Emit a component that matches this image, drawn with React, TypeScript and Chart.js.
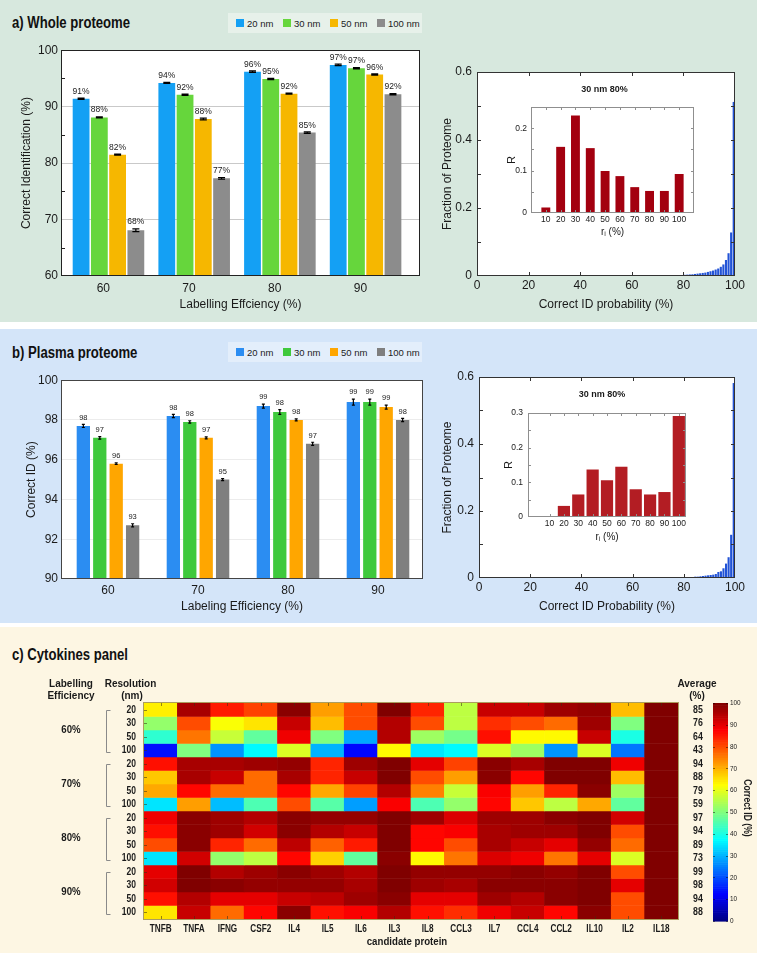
import React, { useEffect, useRef } from 'react';
import { Chart, registerables } from 'chart.js';

Chart.register(...registerables);

const SANS = '"Liberation Sans", Arial, Helvetica, sans-serif';
const INK = '#1a1a1a';

// ---------------- panel a: whole proteome ----------------
const resolutions = ['20 nm', '30 nm', '50 nm', '100 nm'];
const effLabels = ['60', '70', '80', '90'];
const whole20 = [91.4, 94.2, 96.2, 97.4];
const whole30 = [88.1, 92.1, 94.9, 96.8];
const whole50 = [81.5, 87.8, 92.3, 95.7];
const whole100 = [68.1, 77.3, 85.4, 92.2];
const wholeErr20 = [0.1, 0.1, 0.12, 0.12];
const wholeErr30 = [0.1, 0.12, 0.12, 0.1];
const wholeErr50 = [0.08, 0.15, 0.1, 0.1];
const wholeErr100 = [0.25, 0.15, 0.12, 0.1];
const wholeLab20 = ['91%', '94%', '96%', '97%'];
const wholeLab30 = ['88%', '92%', '95%', '97%'];
const wholeLab50 = ['82%', '88%', '92%', '96%'];
const wholeLab100 = ['68%', '77%', '85%', '92%'];
const wholeYTicks = [60, 70, 80, 90, 100];
const wholeYMinor = [65, 75, 85, 95];

// histogram of correct-ID probability (1 % bins, starting at bin 70)
const histStartA = 70;
const histA = [0.001, 0.001, 0.001, 0.0015, 0.0015, 0.002, 0.002, 0.0025, 0.003, 0.003,
  0.0035, 0.004, 0.0045, 0.005, 0.006, 0.007, 0.008, 0.009, 0.01, 0.012,
  0.014, 0.016, 0.019, 0.022, 0.027, 0.034, 0.047, 0.067, 0.128, 0.512];
const histStartB = 70;
const histB = [0, 0, 0, 0, 0, 0, 0, 0, 0.0005, 0.001,
  0.002, 0.002, 0.003, 0.003, 0.004, 0.004, 0.005, 0.006, 0.007, 0.008,
  0.009, 0.01, 0.012, 0.018, 0.02, 0.029, 0.043, 0.062, 0.129, 0.582];
const histXTicks = [0, 20, 40, 60, 80, 100];
const histYTicks = [0, 0.2, 0.4, 0.6];
const histYMinor = [0.1, 0.2, 0.3, 0.4, 0.5];

// insets (30 nm, 80 %)
const rCats = ['10', '20', '30', '40', '50', '60', '70', '80', '90', '100'];
const insetA = [0.013, 0.156, 0.23, 0.153, 0.099, 0.087, 0.061, 0.052, 0.052, 0.092];
const insetB = [0, 0.032, 0.065, 0.137, 0.106, 0.145, 0.08, 0.065, 0.072, 0.291];
const insetATicks = [0, 0.1, 0.2];
const insetBTicks = [0, 0.1, 0.2, 0.3];
const insetAMinor = [0.05, 0.1, 0.15, 0.2];
const insetBMinor = [0.05, 0.1, 0.15, 0.2, 0.25];

// ---------------- panel b: plasma proteome ----------------
const plasma20 = [97.7, 98.2, 98.7, 98.9];
const plasma30 = [97.1, 97.9, 98.4, 98.9];
const plasma50 = [95.8, 97.1, 98.0, 98.65];
const plasma100 = [92.7, 95.0, 96.8, 98.0];
const plasmaErr20 = [0.08, 0.08, 0.1, 0.15];
const plasmaErr30 = [0.06, 0.06, 0.12, 0.15];
const plasmaErr50 = [0.04, 0.05, 0.05, 0.1];
const plasmaErr100 = [0.08, 0.05, 0.08, 0.08];
const plasmaLab20 = ['98', '98', '99', '99'];
const plasmaLab30 = ['97', '98', '98', '99'];
const plasmaLab50 = ['96', '97', '98', '99'];
const plasmaLab100 = ['93', '95', '97', '98'];
const plasmaYTicks = [90, 92, 94, 96, 98, 100];

// ---------------- panel c: cytokines heatmap ----------------
const proteins = ['TNFB', 'TNFA', 'IFNG', 'CSF2', 'IL4', 'IL5', 'IL6', 'IL3', 'IL8', 'CCL3', 'IL7', 'CCL4', 'CCL2', 'IL10', 'IL2', 'IL18'];
const effGroups = ['60%', '70%', '80%', '90%'];
const resRows = ['20', '30', '50', '100'];
const e60r20 = [64, 96, 85, 81, 99, 72, 80, 100, 84, 56, 93, 93, 97, 98, 69, 100];
const e60r30 = [52, 80, 62, 65, 93, 69, 80, 95, 80, 56, 83, 80, 77, 97, 50, 100];
const e60r50 = [42, 76, 57, 47, 89, 50, 29, 95, 53, 49, 86, 63, 63, 93, 40, 100];
const e60r100 = [14, 50, 27, 37, 59, 30, 13, 63, 35, 37, 59, 53, 27, 59, 24, 100];
const e70r20 = [86, 96, 96, 97, 98, 84, 97, 100, 90, 81, 99, 96, 100, 100, 89, 100];
const e70r30 = [68, 96, 93, 77, 96, 84, 93, 100, 80, 72, 99, 87, 100, 100, 69, 100];
const e70r50 = [71, 87, 77, 77, 87, 71, 81, 95, 75, 57, 88, 72, 84, 99, 53, 100];
const e70r100 = [35, 72, 31, 45, 80, 46, 28, 88, 45, 52, 87, 68, 56, 71, 47, 100];
const e80r20 = [89, 99, 97, 95, 99, 98, 98, 100, 97, 91, 97, 97, 99, 100, 92, 100];
const e80r30 = [86, 99, 97, 92, 99, 95, 93, 100, 87, 88, 96, 97, 97, 100, 80, 100];
const e80r50 = [80, 99, 84, 77, 94, 78, 85, 100, 87, 80, 96, 93, 90, 98, 77, 100];
const e80r100 = [35, 92, 52, 56, 87, 67, 47, 99, 63, 76, 91, 89, 76, 90, 59, 100];
const e90r20 = [90, 100, 95, 97, 99, 97, 95, 100, 98, 98, 98, 99, 98, 100, 80, 100];
const e90r30 = [92, 100, 99, 98, 98, 98, 96, 100, 97, 96, 99, 99, 99, 100, 90, 100];
const e90r50 = [86, 95, 90, 90, 93, 94, 97, 99, 90, 90, 97, 95, 99, 100, 80, 100];
const e90r100 = [65, 93, 77, 87, 99, 86, 88, 95, 86, 83, 89, 93, 87, 99, 80, 100];
const heatRows = [e60r20, e60r30, e60r50, e60r100, e70r20, e70r30, e70r50, e70r100,
  e80r20, e80r30, e80r50, e80r100, e90r20, e90r30, e90r50, e90r100];
const averages = [85, 76, 64, 43, 94, 88, 79, 59, 97, 94, 89, 73, 99, 98, 94, 88];
const colorbarTicks = [0, 10, 20, 30, 40, 50, 60, 70, 80, 90, 100];

const colorsA = ['#14a0f4', '#66d63c', '#f6b700', '#8c8c8c'];
const colorsB = ['#2b8df2', '#3fc93c', '#ffa600', '#7f7f7f'];

// ---------------- helpers ----------------
function jet(v: number) {
  const t = Math.max(0, Math.min(1, v / 100));
  const c = (x: number) => Math.round(255 * Math.max(0, Math.min(1, 1.5 - Math.abs(x))));
  return `rgb(${c(4 * t - 3)},${c(4 * t - 2)},${c(4 * t - 1)})`;
}

// condensed-looking text: horizontally squeezed Liberation Sans
function narrowText(ctx: any, text: string, x: number, y: number, size: number, squeeze: number, align: string, bold = true, rotate = 0) {
  ctx.save();
  ctx.translate(x, y);
  if (rotate) ctx.rotate(rotate);
  ctx.scale(squeeze, 1);
  ctx.font = `${bold ? 'bold ' : ''}${size}px ${SANS}`;
  ctx.fillStyle = INK;
  ctx.textAlign = align;
  ctx.textBaseline = 'middle';
  ctx.fillText(text, 0, 0);
  ctx.restore();
}

const plotBg = {
  id: 'plotBg',
  beforeDraw(c: any) {
    const { ctx, chartArea: a } = c;
    ctx.save();
    ctx.fillStyle = '#ffffff';
    ctx.fillRect(a.left, a.top, a.width, a.height);
    ctx.restore();
  },
};

type TickSpec = { axis: string; values: number[]; sides: string[]; len: number };
function frameTicks(color: string, specs: TickSpec[], frame = true) {
  return {
    id: 'frameTicks',
    afterDatasetsDraw(c: any) {
      const { ctx, chartArea: a } = c;
      ctx.save();
      ctx.strokeStyle = color;
      ctx.lineWidth = 1;
      for (const s of specs) {
        const sc = c.scales[s.axis];
        for (const v of s.values) {
          const p = Math.round(sc.getPixelForValue(v)) + 0.5;
          for (const side of s.sides) {
            ctx.beginPath();
            if (side === 'bottom') { ctx.moveTo(p, a.bottom); ctx.lineTo(p, a.bottom - s.len); }
            if (side === 'top') { ctx.moveTo(p, a.top); ctx.lineTo(p, a.top + s.len); }
            if (side === 'left') { ctx.moveTo(a.left, p); ctx.lineTo(a.left + s.len, p); }
            if (side === 'right') { ctx.moveTo(a.right, p); ctx.lineTo(a.right - s.len, p); }
            ctx.stroke();
          }
        }
      }
      if (frame) {
        ctx.strokeRect(Math.round(a.left) + 0.5, Math.round(a.top) + 0.5, Math.round(a.width) - 1, Math.round(a.height) - 1);
      }
      ctx.restore();
    },
  };
}

function barNotes(labels: string[][], errs: number[][], font: string, cap: number, gap: number) {
  return {
    id: 'barNotes',
    afterDatasetsDraw(c: any) {
      const { ctx } = c;
      const ys = c.scales.y;
      ctx.save();
      c.data.datasets.forEach((ds: any, di: number) => {
        const meta = c.getDatasetMeta(di);
        meta.data.forEach((el: any, i: number) => {
          const v = ds.data[i].y;
          const e = errs[di][i];
          const top = ys.getPixelForValue(v + e);
          const bot = ys.getPixelForValue(v - e);
          ctx.strokeStyle = '#000';
          ctx.lineWidth = 1.2;
          ctx.beginPath();
          ctx.moveTo(el.x, top); ctx.lineTo(el.x, bot);
          ctx.moveTo(el.x - cap, top); ctx.lineTo(el.x + cap, top);
          ctx.moveTo(el.x - cap, bot); ctx.lineTo(el.x + cap, bot);
          ctx.stroke();
          ctx.fillStyle = '#222';
          ctx.font = font;
          ctx.textAlign = 'center';
          ctx.textBaseline = 'bottom';
          ctx.fillText(labels[di][i], el.x, top - gap);
        });
      });
      ctx.restore();
    },
  };
}

function insetTitle(text: string, dx: number, dy: number) {
  return {
    id: 'insetTitle',
    afterDraw(c: any) {
      const { ctx, chartArea: a } = c;
      ctx.save();
      ctx.font = `bold 9px ${SANS}`;
      ctx.fillStyle = INK;
      ctx.textAlign = 'center';
      ctx.textBaseline = 'middle';
      ctx.fillText(text, (a.left + a.right) / 2 + dx, a.top + dy);
      ctx.restore();
    },
  };
}

const baseOpts = { responsive: false, animation: false, events: [] as string[] };
const noLegend = { legend: { display: false }, tooltip: { enabled: false } };

function groupedBars(p: any) {
  return {
    type: 'bar',
    data: {
      datasets: p.series.map((vals: number[], s: number) => ({
        label: resolutions[s],
        data: vals.map((v, i) => ({ x: i, y: v })),
        backgroundColor: p.colors[s],
        borderWidth: 0,
        categoryPercentage: p.catPct,
        barPercentage: p.barPct,
      })),
    },
    options: {
      ...baseOpts,
      layout: { padding: { top: p.padTop, right: p.padRight, left: 0, bottom: 0 } },
      plugins: noLegend,
      scales: {
        x: {
          type: 'linear', min: p.xMin, max: p.xMax, offset: false,
          afterBuildTicks: (s: any) => { s.ticks = effLabels.map((_l, i) => ({ value: i + p.xTickShift })); },
          ticks: { autoSkip: false, maxRotation: 0, padding: p.xTickPad, color: INK, font: { family: SANS, size: 12 }, callback: (_v: any, i: number) => effLabels[i] },
          grid: { display: false, drawTicks: false },
          border: { display: false },
          title: { display: true, text: p.xTitle, color: INK, font: { family: SANS, size: 12 }, padding: { top: 0, bottom: p.xTitlePad } },
          afterFit: (s: any) => { s.height = p.xHeight; },
        },
        y: {
          type: 'linear', min: p.yMin, max: p.yMax,
          afterBuildTicks: (s: any) => { s.ticks = p.yTicks.map((v: number) => ({ value: v })); },
          ticks: { padding: p.yTickPad, color: INK, font: { family: SANS, size: 12 }, callback: (v: number) => String(v) },
          grid: {
            drawTicks: false,
            color: (ctx: any) => (ctx.tick && (ctx.tick.value === p.yMin || ctx.tick.value === p.yMax)) ? 'rgba(0,0,0,0)' : p.gridColor,
          },
          border: { display: false },
          title: { display: true, text: p.yTitle, color: INK, font: { family: SANS, size: 12 }, padding: { top: p.yTitlePad, bottom: 0 } },
          afterFit: (s: any) => { s.width = p.yWidth; },
        },
      },
    },
    plugins: [plotBg, barNotes(p.labels, p.errs, p.labelFont, p.cap, p.gap), frameTicks(p.frameColor, p.minor ? [{ axis: 'y', values: p.minor, sides: ['left'], len: 4 }] : [])],
  };
}

function histogram(p: any) {
  return {
    type: 'bar',
    data: {
      datasets: [{
        data: p.values.map((v: number, i: number) => ({ x: p.start + i + 0.5, y: v })),
        backgroundColor: '#2253d6',
        borderWidth: 0,
        barPercentage: 0.82,
        categoryPercentage: 1,
      }],
    },
    options: {
      ...baseOpts,
      layout: { padding: { top: p.padTop, right: p.padRight, left: 0, bottom: 0 } },
      plugins: noLegend,
      scales: {
        x: {
          type: 'linear', min: 0, max: 100, offset: false,
          afterBuildTicks: (s: any) => { s.ticks = histXTicks.map((v) => ({ value: v })); },
          ticks: { autoSkip: false, maxRotation: 0, padding: p.xTickPad, color: INK, font: { family: SANS, size: 12 } },
          grid: { display: false, drawTicks: false },
          border: { display: false },
          title: { display: true, text: p.xTitle, color: INK, font: { family: SANS, size: 12 }, padding: { top: 0, bottom: p.xTitlePad } },
          afterFit: (s: any) => { s.height = p.xHeight; },
        },
        y: {
          type: 'linear', min: 0, max: 0.6,
          afterBuildTicks: (s: any) => { s.ticks = histYTicks.map((v) => ({ value: v })); },
          ticks: { padding: 5, color: INK, font: { family: SANS, size: 12 }, callback: (v: number) => (v === 0 ? '0' : v.toFixed(1)) },
          grid: { display: false, drawTicks: false },
          border: { display: false },
          title: { display: true, text: 'Fraction of Proteome', color: INK, font: { family: SANS, size: 12 }, padding: { top: p.yTitlePad, bottom: 0 } },
          afterFit: (s: any) => { s.width = p.yWidth; },
        },
      },
    },
    plugins: [plotBg, frameTicks('#333', [
      { axis: 'x', values: [20, 40, 60, 80], sides: ['top', 'bottom'], len: 4 },
      { axis: 'y', values: histYMinor, sides: ['left', 'right'], len: 4 },
    ])],
  };
}

function inset(p: any) {
  return {
    type: 'bar',
    data: {
      datasets: [{
        data: p.values.map((v: number, i: number) => ({ x: i + 1, y: v })),
        backgroundColor: p.color,
        borderWidth: 0,
        barPercentage: p.barPct,
        categoryPercentage: 1,
      }],
    },
    options: {
      ...baseOpts,
      layout: { padding: { top: p.padTop, right: p.padRight, left: 0, bottom: 0 } },
      plugins: noLegend,
      scales: {
        x: {
          type: 'linear', min: p.xMin, max: p.xMax, offset: false,
          afterBuildTicks: (s: any) => { s.ticks = rCats.map((_c, i) => ({ value: i + 1 })); },
          ticks: { autoSkip: false, maxRotation: 0, padding: 2, color: INK, font: { family: SANS, size: 8.5 }, callback: (_v: any, i: number) => rCats[i] },
          grid: { display: false, drawTicks: false },
          border: { display: false },
          title: { display: true, text: 'rᵢ (%)', color: INK, font: { family: SANS, size: 10 }, padding: { top: 0, bottom: p.xTitlePad } },
          afterFit: (s: any) => { s.height = p.xHeight; },
        },
        y: {
          type: 'linear', min: 0, max: p.yMax,
          afterBuildTicks: (s: any) => { s.ticks = p.yTicks.map((v: number) => ({ value: v })); },
          ticks: { padding: p.yTickPad, color: INK, font: { family: SANS, size: 8.5 }, callback: (v: number) => (v === 0 ? '0' : v.toFixed(1)) },
          grid: { display: false, drawTicks: false },
          border: { display: false },
          title: { display: true, text: 'R', color: INK, font: { family: SANS, size: 11 }, padding: { top: p.yTitlePad, bottom: 0 } },
          afterFit: (s: any) => { s.width = p.yWidth; },
        },
      },
    },
    plugins: [plotBg, frameTicks('#8f8f8f', [
      { axis: 'x', values: rCats.map((_c, i) => i + 1), sides: ['top', 'bottom'], len: 3 },
      { axis: 'y', values: p.minor, sides: ['left', 'right'], len: 3 },
    ]), insetTitle('30 nm 80%', p.titleDx, p.titleDy)],
  };
}

const heatOverlay = {
  id: 'heatOverlay',
  afterDraw(c: any) {
    const { ctx, chartArea: a } = c;
    const ys = c.scales.y;
    const xs = c.scales.x;
    ctx.save();
    // inner tick marks
    ctx.strokeStyle = 'rgba(60,50,20,0.55)';
    ctx.lineWidth = 1;
    proteins.forEach((_p, i) => {
      const x = Math.round(xs.getPixelForValue(i)) + 0.5;
      ctx.beginPath();
      ctx.moveTo(x, a.top); ctx.lineTo(x, a.top + 3);
      ctx.moveTo(x, a.bottom); ctx.lineTo(x, a.bottom - 3);
      ctx.stroke();
    });
    heatRows.forEach((_r, i) => {
      const y = Math.round(ys.getPixelForValue(i + 0.5)) + 0.5;
      ctx.beginPath();
      ctx.moveTo(a.left, y); ctx.lineTo(a.left + 3, y);
      ctx.stroke();
    });
    ctx.strokeStyle = 'rgba(150,135,60,0.8)';
    ctx.strokeRect(Math.round(a.left) - 0.5, Math.round(a.top) - 0.5, Math.round(a.width) + 1, Math.round(a.height) + 1);

    // axis labels at the library's scale positions
    proteins.forEach((p, i) => {
      narrowText(ctx, p, xs.getPixelForValue(i), a.bottom + 10, 10, 0.82, 'center');
    });
    narrowText(ctx, 'candidate protein', (a.left + a.right) / 2 - 4, a.bottom + 23, 11.5, 0.84, 'center');
    heatRows.forEach((_r, i) => {
      const y = ys.getPixelForValue(i + 0.5);
      narrowText(ctx, resRows[i % 4], a.left - 8, y, 11.5, 0.74, 'right');
      narrowText(ctx, String(averages[i]), a.right + 20, y, 11, 0.8, 'center');
    });

    // headers
    ctx.fillStyle = INK;
    ctx.font = `bold 10px ${SANS}`;
    ctx.textAlign = 'center';
    ctx.textBaseline = 'middle';
    ctx.fillText('Labelling', a.left - 73, a.top - 19);
    ctx.fillText('Efficiency', a.left - 73, a.top - 7);
    ctx.fillText('Resolution', a.left - 13.5, a.top - 19);
    ctx.fillText('(nm)', a.left - 12, a.top - 7);
    ctx.fillText('Average', a.right + 19, a.top - 19);
    ctx.fillText('(%)', a.right + 19, a.top - 7);
    // group labels and brackets
    effGroups.forEach((g, i) => {
      const y0 = ys.getPixelForValue(i * 4);
      const y1 = ys.getPixelForValue(i * 4 + 4);
      narrowText(ctx, g, a.left - 73, (y0 + y1) / 2, 10.5, 0.92, 'center');
      ctx.strokeStyle = '#8a8a8a';
      const bx = Math.round(a.left - 38) + 0.5;
      ctx.beginPath();
      ctx.moveTo(bx + 4, Math.round(y0 + 7) + 0.5);
      ctx.lineTo(bx, Math.round(y0 + 7) + 0.5);
      ctx.lineTo(bx, Math.round(y1 - 5) + 0.5);
      ctx.lineTo(bx + 4, Math.round(y1 - 5) + 0.5);
      ctx.stroke();
    });
    ctx.restore();
  },
};

function heatmapConfig() {
  return {
    type: 'bar',
    data: {
      labels: proteins,
      datasets: heatRows.map((row, r) => ({
        label: `${effGroups[Math.floor(r / 4)]} ${resRows[r % 4]} nm`,
        data: row.map(() => [r, r + 1]),
        backgroundColor: row.map((v) => jet(v)),
        borderWidth: 0,
        grouped: false,
        barPercentage: 1,
        categoryPercentage: 1,
      })),
    },
    options: {
      ...baseOpts,
      layout: { padding: { top: 33, right: 0, left: 0, bottom: 0 } },
      plugins: noLegend,
      scales: {
        x: {
          type: 'category',
          ticks: { display: false },
          grid: { display: false, drawTicks: false },
          border: { display: false },
          afterFit: (s: any) => { s.height = 34; },
        },
        y: {
          type: 'linear', min: 0, max: 16, reverse: true,
          afterBuildTicks: (s: any) => { s.ticks = heatRows.map((_r, i) => ({ value: i + 0.5 })); },
          ticks: { display: false, autoSkip: false },
          grid: { display: false, drawTicks: false },
          border: { display: false },
          afterFit: (s: any) => { s.width = 104; },
        },
        y2: {
          type: 'linear', position: 'right', min: 0, max: 16, reverse: true,
          ticks: { display: false },
          grid: { display: false, drawTicks: false },
          border: { display: false },
          afterFit: (s: any) => { s.width = 42; },
        },
      },
    },
    plugins: [heatOverlay],
  };
}

const colorbarGradient = {
  id: 'colorbarGradient',
  afterDraw(c: any) {
    const { ctx, chartArea: a } = c;
    const ys = c.scales.y;
    ctx.save();
    for (let v = 0; v < 100; v += 1) {
      const y0 = ys.getPixelForValue(v);
      const y1 = ys.getPixelForValue(v + 1);
      ctx.fillStyle = jet(v + 0.5);
      ctx.fillRect(a.left, y1, a.width, y0 - y1 + 0.6);
    }
    ctx.strokeStyle = 'rgba(0,0,0,0.45)';
    ctx.lineWidth = 1;
    colorbarTicks.forEach((v) => {
      const y = Math.round(ys.getPixelForValue(v)) + 0.5;
      ctx.beginPath();
      ctx.moveTo(a.right, y); ctx.lineTo(a.right - 2, y);
      ctx.moveTo(a.left, y); ctx.lineTo(a.left + 2, y);
      ctx.stroke();
      narrowText(ctx, String(v), a.right + 2, ys.getPixelForValue(v), 8, 0.8, 'left', false);
    });
    narrowText(ctx, 'Correct ID (%)', a.right + 19, (a.top + a.bottom) / 2 - 4, 10.5, 0.82, 'center', true, Math.PI / 2);
    ctx.restore();
  },
};

function colorbarConfig() {
  return {
    type: 'scatter',
    data: { datasets: [] },
    options: {
      ...baseOpts,
      layout: { padding: { top: 8, left: 5, bottom: 9, right: 0 } },
      plugins: noLegend,
      scales: {
        x: { type: 'linear', display: false, min: 0, max: 1 },
        y: {
          type: 'linear', position: 'right', min: 0, max: 100,
          afterBuildTicks: (s: any) => { s.ticks = colorbarTicks.map((v) => ({ value: v })); },
          ticks: { display: false },
          grid: { display: false, drawTicks: false },
          border: { display: false },
          afterFit: (s: any) => { s.width = 29; },
        },
      },
    },
    plugins: [colorbarGradient],
  };
}

// ---------------- components ----------------
function ChartBox({ x, y, w, h, make }: { x: number; y: number; w: number; h: number; make: () => any }) {
  const ref = useRef<HTMLCanvasElement>(null);
  useEffect(() => {
    const chart = new Chart(ref.current as HTMLCanvasElement, make());
    return () => chart.destroy();
  }, []);
  return <canvas ref={ref} width={w} height={h} style={{ position: 'absolute', left: x, top: y, width: w, height: h }} />;
}

function Legend({ x, y, bg, colors }: { x: number; y: number; bg: string; colors: string[] }) {
  return (
    <div style={{ position: 'absolute', left: x, top: y, width: 194, height: 20, background: bg }}>
      {resolutions.map((r, i) => (
        <div key={r} style={{ position: 'absolute', left: 8 + i * 47, top: 0, height: 20, display: 'flex', alignItems: 'center', whiteSpace: 'nowrap' }}>
          <span style={{ display: 'inline-block', width: 8, height: 8, background: colors[i], marginRight: 3 }} />
          <span style={{ font: `9.5px ${SANS}`, color: '#222' }}>{r}</span>
        </div>
      ))}
    </div>
  );
}

function PanelTitle({ x, y, text }: { x: number; y: number; text: string }) {
  return (
    <div style={{ position: 'absolute', left: x, top: y, font: `bold 16px ${SANS}`, lineHeight: '18px', color: '#111', whiteSpace: 'nowrap', transform: 'scaleX(0.82)', transformOrigin: 'left center' }}>{text}</div>
  );
}

export default function App() {
  useEffect(() => { document.body.style.margin = '0'; }, []);
  return (
    <div style={{ position: 'absolute', left: 0, top: 0, width: 757, height: 953, overflow: 'hidden', background: '#ffffff' }}>
      <div style={{ position: 'absolute', left: 0, top: 0, width: 757, height: 322, background: '#d7e8de' }} />
      <div style={{ position: 'absolute', left: 0, top: 329, width: 757, height: 294, background: '#d4e5f9' }} />
      <div style={{ position: 'absolute', left: 0, top: 627, width: 757, height: 326, background: '#fdf6e3' }} />

      <PanelTitle x={12} y={14} text="a) Whole proteome" />
      <Legend x={228} y={13} bg="#e7f1ea" colors={colorsA} />
      <ChartBox x={0} y={40} w={430} h={280} make={() => groupedBars({
        series: [whole20, whole30, whole50, whole100],
        errs: [wholeErr20, wholeErr30, wholeErr50, wholeErr100],
        labels: [wholeLab20, wholeLab30, wholeLab50, wholeLab100],
        colors: colorsA, xMin: -0.554, xMax: 3.635, yMin: 60, yMax: 100, xTickShift: -0.06,
        yTicks: wholeYTicks, minor: wholeYMinor, gridColor: '#c9c9c9',
        yTitle: 'Correct Identification (%)', xTitle: 'Labelling Effciency (%)',
        padTop: 8, padRight: 10, yWidth: 61, xHeight: 44, xTickPad: 5, yTickPad: 3,
        xTitlePad: 8, yTitlePad: 19, catPct: 0.852, barPct: 0.92,
        labelFont: `8.5px ${SANS}`, cap: 3.5, gap: 2.5, frameColor: '#222',
      })} />
      <ChartBox x={430} y={50} w={327} h={270} make={() => histogram({
        values: histA, start: histStartA, padTop: 22, padRight: 22, yWidth: 47, xHeight: 44,
        xTickPad: 2, xTitlePad: 8, yTitlePad: 10.8, xTitle: 'Correct ID probability (%)',
      })} />
      <ChartBox x={490} y={85} w={215} h={160} make={() => inset({
        values: insetA, color: '#a3000f', barPct: 0.6, xMin: 0, xMax: 11, yMax: 0.25,
        yTicks: insetATicks, minor: insetAMinor, padTop: 22, padRight: 11, yWidth: 41, xHeight: 32,
        yTickPad: 4, yTitlePad: 15.4, xTitlePad: 6.4, titleDx: -8, titleDy: -17,
      })} />

      <PanelTitle x={12} y={344} text="b) Plasma proteome" />
      <Legend x={228} y={342} bg="#e3eefb" colors={colorsB} />
      <ChartBox x={0} y={370} w={430} h={250} make={() => groupedBars({
        series: [plasma20, plasma30, plasma50, plasma100],
        errs: [plasmaErr20, plasmaErr30, plasmaErr50, plasmaErr100],
        labels: [plasmaLab20, plasmaLab30, plasmaLab50, plasmaLab100],
        colors: colorsB, xMin: -0.522, xMax: 3.5, yMin: 90, yMax: 100, xTickShift: 0,
        yTicks: plasmaYTicks, minor: null, gridColor: '#ececec',
        yTitle: 'Correct ID (%)', xTitle: 'Labeling Efficiency (%)',
        padTop: 7, padRight: 7, yWidth: 61, xHeight: 41, xTickPad: 4, yTickPad: 3,
        xTitlePad: 5.8, yTitlePad: 24.8, catPct: 0.73, barPct: 0.81,
        labelFont: `7.5px ${SANS}`, cap: 1.5, gap: 3, frameColor: '#444',
      })} />
      <ChartBox x={430} y={360} w={327} h={260} make={() => histogram({
        values: histB, start: histStartB, padTop: 17, padRight: 22, yWidth: 49, xHeight: 42,
        xTickPad: 2, xTitlePad: 5.8, yTitlePad: 10.8, xTitle: 'Correct ID Probability (%)',
      })} />
      <ChartBox x={487} y={390} w={210} h={160} make={() => inset({
        values: insetB, color: '#b31d23', barPct: 0.85, xMin: -0.5, xMax: 10.5, yMax: 0.3,
        yTicks: insetBTicks, minor: insetBMinor, padTop: 23, padRight: 11, yWidth: 41, xHeight: 33,
        yTickPad: 5, yTitlePad: 15.4, xTitlePad: 6.4, titleDx: -5, titleDy: -18,
      })} />

      <PanelTitle x={12} y={646} text="c) Cytokines panel" />
      <ChartBox x={40} y={670} w={680} h={283} make={heatmapConfig} />
      <ChartBox x={708} y={695} w={49} h={235} make={colorbarConfig} />
    </div>
  );
}
